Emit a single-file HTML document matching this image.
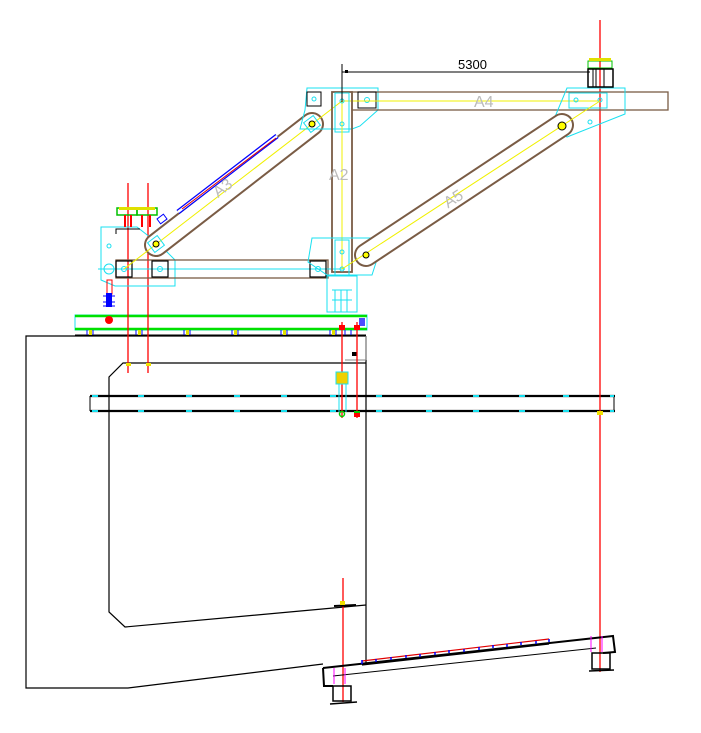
<!DOCTYPE html>
<html><head><meta charset="utf-8"><style>html,body{margin:0;padding:0;background:#fff}svg{display:block}</style></head>
<body>
<svg width="701" height="733" viewBox="0 0 701 733" xmlns="http://www.w3.org/2000/svg" font-family="Liberation Sans, sans-serif">
<rect width="701" height="733" fill="#fff"/>
<g fill="none" stroke="#000" stroke-width="1.2">
<polyline points="366,336 26,336 26,688 128,688 323,664"/>
<line x1="366" y1="336" x2="366" y2="663"/>
<polyline points="366,363 123,363 109,377 109,612 125,627 366,605"/>
</g>
<line x1="345" y1="360" x2="366" y2="360" stroke="#888" stroke-width="1"/>
<line x1="366" y1="336" x2="366" y2="360" stroke="#888" stroke-width="1"/>
<rect x="352" y="352" width="5" height="4" fill="#000"/>
<g stroke="#000" stroke-width="2.2">
<line x1="90" y1="396" x2="615" y2="396"/>
<line x1="90" y1="411" x2="615" y2="411"/>
</g>
<line x1="90" y1="396" x2="90" y2="411" stroke="#000"/>
<line x1="614" y1="396" x2="614" y2="411" stroke="#000"/>
<g stroke="#19e0f0" stroke-width="2">
<path d="M92 396h6M138 396h6M186 396h6M234 396h6M281 396h6M330 396h6M376 396h6M426 396h6M473 396h6M519 396h6M563 396h6M610 396h4"/>
<path d="M92 411h6M138 411h6M186 411h6M234 411h6M281 411h6M330 411h6M376 411h6M426 411h6M473 411h6M519 411h6M563 411h6M610 411h4"/>
</g>
<rect x="75" y="315" width="292" height="15" fill="none" stroke="#19e0f0" stroke-width="1"/>
<line x1="75" y1="316" x2="367" y2="316" stroke="#00e000" stroke-width="2.5"/>
<line x1="75" y1="329" x2="367" y2="329" stroke="#00e000" stroke-width="2.5"/>
<line x1="75" y1="335" x2="366" y2="335" stroke="#000" stroke-width="1"/>
<g fill="none" stroke="#0000ff" stroke-width="1">
<path d="M87 330v5M93 330v5M136 330v5M142 330v5M184 330v5M190 330v5M232 330v5M238 330v5M281 330v5M287 330v5M330 330v5M336 330v5M345 330v5M351 330v5"/>
</g>
<g fill="#e0e000"><rect x="89" y="330" width="3" height="5"/><rect x="138" y="330" width="3" height="5"/><rect x="186" y="330" width="3" height="5"/><rect x="234" y="330" width="3" height="5"/><rect x="283" y="330" width="3" height="5"/><rect x="332" y="330" width="3" height="5"/></g>
<rect x="359" y="318" width="6" height="8" fill="#0000ff" opacity=".7"/>
<g stroke="#f00" stroke-width="1.3">
<line x1="128" y1="183" x2="128" y2="373"/>
<line x1="148" y1="183" x2="148" y2="373"/>
<line x1="342" y1="322" x2="342" y2="418"/>
<line x1="357" y1="322" x2="357" y2="418"/>
<line x1="600" y1="20" x2="600" y2="672"/>
<line x1="343" y1="578" x2="343" y2="702"/>
</g>
<g fill="#f00"><rect x="339" y="325" width="6" height="5"/><rect x="354" y="325" width="6" height="5"/><rect x="339" y="378" width="6" height="5"/><rect x="354" y="412" width="6" height="5"/></g>
<rect x="336" y="372" width="12" height="12" fill="#f0d000" stroke="#19e0f0"/>
<line x1="339" y1="384" x2="339" y2="412" stroke="#19e0f0"/><line x1="346" y1="384" x2="346" y2="412" stroke="#19e0f0"/>
<circle cx="342" cy="414" r="2.5" fill="none" stroke="#00d000" stroke-width="1.5"/>
<rect x="354" y="411" width="6" height="2" fill="#00d000"/>
<rect x="126" y="363" width="5" height="3" fill="#f0e000"/><rect x="146" y="363" width="5" height="3" fill="#f0e000"/>
<rect x="597" y="411" width="6" height="4" fill="#f0e000"/>
<g fill="none" stroke="#19e0f0" stroke-width="1">
<polygon points="101,227 137,227 160,245 175,260 175,286 115,286 101,280"/>
<line x1="98" y1="269" x2="175" y2="269"/>
<circle cx="109" cy="269" r="5"/><circle cx="109" cy="246" r="2"/>
</g>
<polyline points="116,234 116,229 140,229" fill="none" stroke="#000"/>
<g fill="none" stroke-width="1.5"><rect x="117" y="208" width="20" height="7" stroke="#00c000"/><rect x="137" y="208" width="20" height="7" stroke="#00c000"/></g>
<rect x="119" y="207" width="36" height="3" fill="#e0e000"/>
<g stroke="#f00" stroke-width="2"><path d="M125 215v12M131 215v12M142 215v12M150 215v12"/></g>
<rect x="107" y="280" width="5" height="14" fill="none" stroke="#f00"/>
<rect x="106" y="293" width="6" height="14" fill="#0000ff"/>
<path d="M103 296h12M103 302h12M103 306h12" stroke="#0000ff"/>
<circle cx="109" cy="320" r="4" fill="#f00"/>
<rect x="116" y="260" width="212" height="18" fill="none" stroke="#7a5c45" stroke-width="1.3"/>
<line x1="110" y1="269" x2="345" y2="269" stroke="#19e0f0"/>
<g fill="none" stroke="#000" stroke-width="1.2"><rect x="116" y="261" width="16" height="16"/><rect x="152" y="261" width="16" height="16"/><rect x="310" y="261" width="16" height="16"/></g>
<g fill="none" stroke="#19e0f0"><circle cx="124" cy="269" r="2.5"/><circle cx="160" cy="269" r="2.5"/><circle cx="318" cy="269" r="2.5"/></g>
<line x1="156" y1="245" x2="312" y2="124" stroke="#7a5c45" stroke-width="24" stroke-linecap="round"/>
<line x1="156" y1="245" x2="312" y2="124" stroke="#fff" stroke-width="20" stroke-linecap="round"/>
<line x1="124" y1="269" x2="342" y2="101" stroke="#f0f000" stroke-width="1"/>
<line x1="178" y1="212" x2="277" y2="136" stroke="#0000ff" stroke-width="5"/>
<line x1="178" y1="212" x2="277" y2="136" stroke="#fff" stroke-width="2.5"/>
<line x1="182" y1="209" x2="276" y2="138" stroke="#e00000" stroke-width="1"/>
<rect x="158" y="216" width="8" height="6" fill="none" stroke="#0000ff" transform="rotate(-37 162 219)"/>
<rect x="150" y="238" width="12" height="12" fill="none" stroke="#19e0f0" transform="rotate(-37 156 244)"/>
<rect x="306" y="118" width="12" height="12" fill="none" stroke="#19e0f0" transform="rotate(-37 312 124)"/>
<circle cx="156" cy="244" r="3" fill="#ff0" stroke="#000"/><circle cx="312" cy="124" r="3" fill="#ff0" stroke="#000"/>
<text x="214" y="194" font-size="16" fill="#bbb" transform="rotate(-38 222 190)">A3</text>
<polygon points="307,88 378,88 378,110 360,126 352,129 300,129 305,110" fill="none" stroke="#19e0f0"/>
<rect x="307" y="92" width="14" height="14" fill="none" stroke="#000"/>
<circle cx="314" cy="99" r="2" fill="none" stroke="#19e0f0"/>
<rect x="352" y="92" width="316" height="18" fill="none" stroke="#7a5c45" stroke-width="1.3"/>
<rect x="358" y="92" width="18" height="16" fill="none" stroke="#000"/>
<circle cx="367" cy="100" r="2.5" fill="none" stroke="#19e0f0"/>
<line x1="342" y1="101" x2="600" y2="101" stroke="#f0f000"/>
<text x="474" y="107" font-size="16" fill="#bbb">A4</text>
<polygon points="567,88 625,88 625,114 567,137 552,124" fill="none" stroke="#19e0f0"/>
<rect x="569" y="93" width="38" height="15" fill="none" stroke="#19e0f0"/>
<circle cx="576" cy="100" r="2" fill="none" stroke="#19e0f0"/><circle cx="600" cy="100" r="2" fill="none" stroke="#19e0f0"/><circle cx="590" cy="122" r="2" fill="none" stroke="#19e0f0"/>
<rect x="588" y="61" width="24" height="7" fill="none" stroke="#00c000"/>
<rect x="589" y="58" width="22" height="3" fill="#e0e000"/>
<rect x="588" y="69" width="25" height="18" fill="none" stroke="#000" stroke-width="1.5"/>
<path d="M593 69v18M596 69v18M604 69v18" stroke="#000"/>
<rect x="332" y="92" width="20" height="180" fill="none" stroke="#7a5c45" stroke-width="1.8"/>
<rect x="335" y="93" width="14" height="39" fill="none" stroke="#19e0f0"/>
<line x1="342" y1="101" x2="342" y2="269" stroke="#f0f000"/>
<circle cx="342" cy="101" r="2" fill="none" stroke="#19e0f0"/><circle cx="342" cy="124" r="2" fill="none" stroke="#19e0f0"/>
<text x="329" y="180" font-size="16" fill="#bbb">A2</text>
<polygon points="312,238 372,238 380,250 372,275 327,275 308,262" fill="none" stroke="#19e0f0"/>
<rect x="335" y="240" width="14" height="36" fill="none" stroke="#19e0f0"/>
<circle cx="342" cy="252" r="2" fill="none" stroke="#19e0f0"/><circle cx="342" cy="269" r="2" fill="none" stroke="#19e0f0"/>
<rect x="327" y="276" width="30" height="36" fill="none" stroke="#19e0f0"/>
<path d="M332 290h20M332 300h20M335 290v22M341 290v22M347 290v22" stroke="#19e0f0"/>
<line x1="366" y1="255" x2="562" y2="125" stroke="#7a5c45" stroke-width="24" stroke-linecap="round"/>
<line x1="366" y1="255" x2="562" y2="125" stroke="#fff" stroke-width="20" stroke-linecap="round"/>
<line x1="342" y1="269" x2="600" y2="101" stroke="#f0f000"/>
<circle cx="366" cy="255" r="3" fill="#ff0" stroke="#000"/><circle cx="562" cy="126" r="4" fill="#ff0" stroke="#000"/>
<text x="444" y="205" font-size="16" fill="#bbb" transform="rotate(-33 452 200)">A5</text>
<line x1="342" y1="64" x2="342" y2="102" stroke="#000"/>
<line x1="342" y1="72" x2="590" y2="72" stroke="#000"/>
<rect x="345" y="70" width="3" height="3" fill="#000"/>
<text x="458" y="69" font-size="13" fill="#000">5300</text>
<line x1="334" y1="606" x2="356" y2="605" stroke="#000" stroke-width="2"/>
<rect x="340" y="601" width="5" height="4" fill="#f0e000"/>
<g fill="none" stroke="#000" stroke-width="2">
<polyline points="323,668 613,636 615,652 603,653"/>
<polyline points="323,668 324,686 333,686"/>
</g>
<line x1="333" y1="676" x2="596" y2="648" stroke="#000" stroke-width="1"/>
<polyline points="362,661 549,639" fill="none" stroke="#e00000" stroke-width="1.2"/>
<line x1="362" y1="665" x2="549" y2="644" stroke="#000" stroke-width="1.2"/>
<g stroke="#0000ff" stroke-width="1.5"><path d="M362 660v4M376 659v3M391 657v3M406 655v3M420 654v3M435 652v3M449 650v3M464 649v3M479 647v3M493 645v3M507 644v3M521 642v3M536 641v3M549 639v3"/></g>
<g fill="none" stroke="#000" stroke-width="1.5">
<rect x="333" y="686" width="18" height="15"/><polyline points="330,704 357,702"/>
<rect x="592" y="653" width="18" height="16"/><polyline points="589,671 614,670"/>
</g>
<path d="M334 668v16M345 668v16" stroke="#f0f" stroke-width="1"/>
<path d="M591 636v16M602 636v16" stroke="#f0f" stroke-width="1"/>
</svg>
</body></html>
